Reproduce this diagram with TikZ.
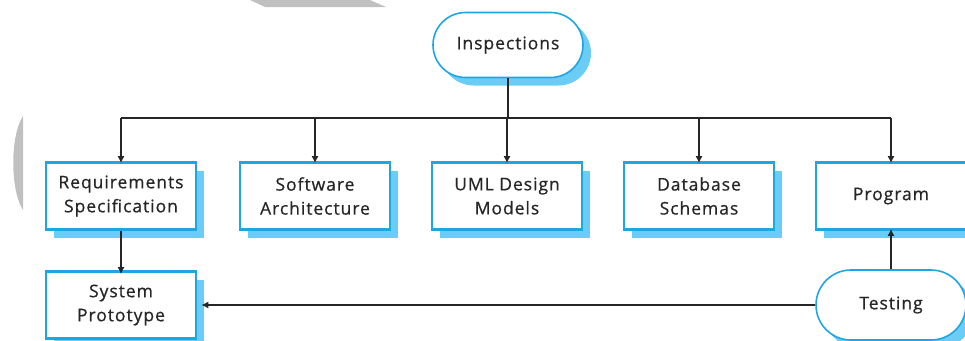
\documentclass[tikz,border=0pt]{standalone}
\usepackage{fontspec}
\setmainfont{Open Sans}[LetterSpace=5.5,FakeBold=0.6]
\usetikzlibrary{shapes.misc,shadows,arrows.meta}
\definecolor{edgeblue}{HTML}{1DA6E6}
\definecolor{shadeblue}{HTML}{6BCDF5}
\definecolor{ink}{HTML}{262626}
\definecolor{greymark}{HTML}{C0C0C0}
\tikzset{
  blueshadow/.style={copy shadow={shadow xshift=8pt, shadow yshift=-8pt, fill=shadeblue, draw=none}},
  labelfont/.style={font=\fontsize{17.5}{24}\selectfont, text=ink},
  docbox/.style={rectangle, draw=edgeblue, line width=2.6pt, fill=white, blueshadow,
    minimum width=150pt, minimum height=67pt, align=center, inner sep=0pt, labelfont},
  actpill/.style={rounded rectangle, draw=edgeblue, line width=1.6pt, fill=white, blueshadow,
    minimum width=150pt, minimum height=65pt, inner sep=0pt, labelfont},
  link/.style={draw=ink, line width=2pt, -{Latex[length=7pt,width=7pt]}},
  bus/.style={draw=ink, line width=2pt}
}
\begin{document}
\begin{tikzpicture}[x=1pt,y=-1pt]
  \useasboundingbox (0,0) rectangle (965,340);
  \clip (0,0) rectangle (965,340);
  % grey marks
  \fill[greymark] (250,0) -- (370,0) -- (386,7) -- (265,7) -- cycle;
  \fill[greymark] (23,116) .. controls (10,136) and (10,190) .. (23,210) -- cycle;
  % review activity
  \node[actpill] (insp) at (508,45) {Inspections};
  % documents
  \node[docbox] (req)  at (121,196) {Requirements\\Specification};
  \node[docbox] (arch) at (315,196) {Software\\Architecture};
  \node[docbox] (uml)  at (507,196) {UML Design\\Models};
  \node[docbox] (db)   at (699,196) {Database\\Schemas};
  \node[docbox] (prog) at (891,196) {Program};
  \node[docbox] (proto) at (121,305) {System\\Prototype};
  \node[actpill, minimum height=70pt] (test) at (891,305) {Testing};
  % distribution bus
  \coordinate (bl) at (121,118);
  \coordinate (br) at (891,118);
  \draw[bus] (insp.south) -- (insp.south |- bl);
  \draw[bus] (bl) -- (br);
  \foreach \t in {req,arch,uml,db,prog}
    \draw[link] (\t.north |- bl) -- ([yshift=-2pt]\t.north);
  \draw[link] (req.south) -- ([yshift=-4pt]proto.north);
  \draw[link] (test.north) -- ([yshift=2pt]prog.south);
  \draw[link] (test.west) -- ([xshift=4pt]proto.east);
\end{tikzpicture}
\end{document}
